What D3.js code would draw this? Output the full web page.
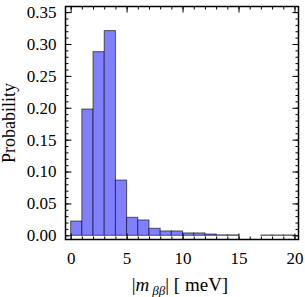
<!DOCTYPE html>
<html>
<head>
<meta charset="utf-8">
<script src="https://cdn.jsdelivr.net/npm/d3@7"></script>
<style>
  body { margin: 0; background: #fff; }
  text { font-family: "Liberation Serif", "Times New Roman", serif; }
</style>
</head>
<body>
<script>
// histogram bins (1 meV wide) and probabilities
var binStarts = [0, 1, 2, 3, 4, 5, 6, 7, 8, 9, 10, 11, 12, 13, 14, 17, 18, 19];
var probs = [0.0224, 0.198, 0.288, 0.321, 0.0866, 0.0282, 0.024, 0.011, 0.0068, 0.0068,
             0.0037, 0.0037, 0.002, 0.0007, 0.0007, 0.0005, 0.0005, 0.0005];
var xTicks = [0, 5, 10, 15, 20];
var yTicks = [0.00, 0.05, 0.10, 0.15, 0.20, 0.25, 0.30, 0.35];

var width = 305, height = 297;
var frame = {left: 65.5, right: 298.5, top: 6.5, bottom: 239.5};

var svg = d3.select("body").append("svg")
    .attr("width", width)
    .attr("height", height);

var x = d3.scaleLinear().domain([-0.46, 20.36]).range([frame.left, frame.right]);
var y = d3.scaleLinear().domain([-0.0066, 0.3588]).range([frame.bottom, frame.top]);

// bars
svg.append("g").selectAll("rect")
    .data(binStarts)
    .enter().append("rect")
    .attr("x", function(d) { return x(d); })
    .attr("y", function(d, i) { return y(probs[i]); })
    .attr("width", function(d) { return x(d + 1) - x(d); })
    .attr("height", function(d, i) { return y(0) - y(probs[i]); })
    .attr("fill", "#8080ff")
    .attr("stroke", "#000")
    .attr("stroke-opacity", 0.6)
    .attr("stroke-width", 1);

// frame axes, ticks pointing inward
var minorX = d3.range(0, 21, 1);
var minorY = d3.range(0, 0.351, 0.01);

function fmtY(d) { return d3.format(".2f")(d); }

var gBottom = svg.append("g").attr("transform", "translate(0," + frame.bottom + ")");
gBottom.call(d3.axisBottom(x).tickValues(minorX).tickSize(-3).tickFormat(""));
gBottom.append("g").call(d3.axisBottom(x).tickValues(xTicks).tickSize(-6).tickPadding(12).tickFormat(d3.format("d")));

var gTop = svg.append("g").attr("transform", "translate(0," + frame.top + ")");
gTop.call(d3.axisTop(x).tickValues(minorX).tickSize(-3).tickFormat(""));
gTop.append("g").call(d3.axisTop(x).tickValues(xTicks).tickSize(-6).tickFormat(""));

var gLeft = svg.append("g").attr("transform", "translate(" + frame.left + ",0)");
gLeft.call(d3.axisLeft(y).tickValues(minorY).tickSize(-3).tickFormat(""));
gLeft.append("g").call(d3.axisLeft(y).tickValues(yTicks).tickSize(-6).tickPadding(9).tickFormat(fmtY));

var gRight = svg.append("g").attr("transform", "translate(" + frame.right + ",0)");
gRight.call(d3.axisRight(y).tickValues(minorY).tickSize(-3).tickFormat(""));
gRight.append("g").call(d3.axisRight(y).tickValues(yTicks).tickSize(-6).tickFormat(""));

svg.selectAll(".domain").remove();
svg.selectAll(".tick line").attr("stroke", "#000").attr("stroke-width", 1);
svg.selectAll(".tick text")
    .attr("font-family", "'Liberation Serif', serif")
    .attr("font-size", 17)
    .attr("fill", "#000");

svg.append("rect")
    .attr("x", frame.left)
    .attr("y", frame.top)
    .attr("width", frame.right - frame.left)
    .attr("height", frame.bottom - frame.top)
    .attr("fill", "none")
    .attr("stroke", "#000")
    .attr("stroke-width", 1.5);

// axis labels
svg.append("text")
    .attr("transform", "translate(15," + ((frame.top + frame.bottom) / 2) + ") rotate(-90)")
    .attr("text-anchor", "middle")
    .attr("font-size", 18)
    .text("Probability");

var xl = svg.append("text")
    .attr("x", 180)
    .attr("y", 291)
    .attr("text-anchor", "middle")
    .attr("font-size", 19)
    .attr("xml:space", "preserve")
    .style("white-space", "pre");
xl.append("tspan").text("|");
xl.append("tspan").attr("font-style", "italic").text("m");
xl.append("tspan").attr("font-style", "italic").attr("font-size", 13).attr("dy", 4).attr("dx", 3).text("ββ");
xl.append("tspan").attr("dy", -4).text("| [ meV]");
</script>
</body>
</html>
